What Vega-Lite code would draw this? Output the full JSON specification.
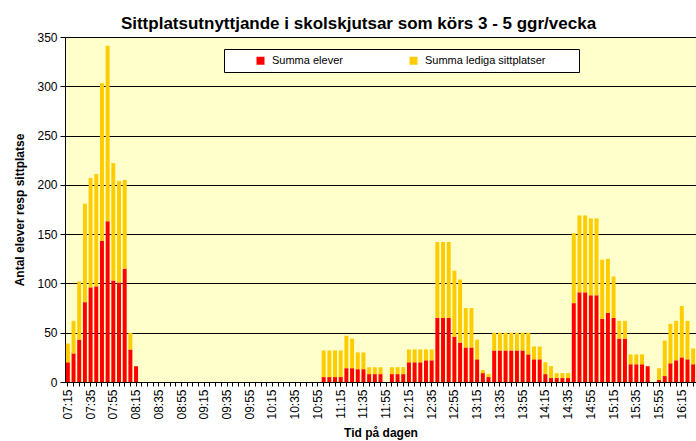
{
  "$schema": "https://vega.github.io/schema/vega-lite/v6.json",
  "width": 631,
  "height": 345,
  "autosize": {"type": "none"},
  "padding": {"left": 65, "top": 37, "right": 0, "bottom": 59},
  "background": "white",
  "title": {
    "text": "Sittplatsutnyttjande i skolskjutsar som körs 3 - 5 ggr/vecka",
    "font": "Liberation Sans",
    "fontSize": 17,
    "fontWeight": "bold",
    "color": "black",
    "anchor": "middle",
    "dx": -22,
    "offset": -2
  },
  "data": {
    "values": [
      {"tid": "07:15", "elever": 20, "lediga": 19},
      {"tid": "07:20", "elever": 29, "lediga": 33},
      {"tid": "07:25", "elever": 43, "lediga": 59},
      {"tid": "07:30", "elever": 81, "lediga": 100},
      {"tid": "07:35", "elever": 96, "lediga": 111},
      {"tid": "07:40", "elever": 97, "lediga": 114},
      {"tid": "07:45", "elever": 143, "lediga": 160},
      {"tid": "07:50", "elever": 163, "lediga": 178},
      {"tid": "07:55", "elever": 103, "lediga": 119},
      {"tid": "08:00", "elever": 101, "lediga": 103},
      {"tid": "08:05", "elever": 115, "lediga": 90},
      {"tid": "08:10", "elever": 33, "lediga": 17},
      {"tid": "08:15", "elever": 16, "lediga": 0},
      {"tid": "08:20", "elever": 0, "lediga": 0},
      {"tid": "08:25", "elever": 0, "lediga": 0},
      {"tid": "08:30", "elever": 0, "lediga": 0},
      {"tid": "08:35", "elever": 0, "lediga": 0},
      {"tid": "08:40", "elever": 0, "lediga": 0},
      {"tid": "08:45", "elever": 0, "lediga": 0},
      {"tid": "08:50", "elever": 0, "lediga": 0},
      {"tid": "08:55", "elever": 0, "lediga": 0},
      {"tid": "09:00", "elever": 0, "lediga": 0},
      {"tid": "09:05", "elever": 0, "lediga": 0},
      {"tid": "09:10", "elever": 0, "lediga": 0},
      {"tid": "09:15", "elever": 0, "lediga": 0},
      {"tid": "09:20", "elever": 0, "lediga": 0},
      {"tid": "09:25", "elever": 0, "lediga": 0},
      {"tid": "09:30", "elever": 0, "lediga": 0},
      {"tid": "09:35", "elever": 0, "lediga": 0},
      {"tid": "09:40", "elever": 0, "lediga": 0},
      {"tid": "09:45", "elever": 0, "lediga": 0},
      {"tid": "09:50", "elever": 0, "lediga": 0},
      {"tid": "09:55", "elever": 0, "lediga": 0},
      {"tid": "10:00", "elever": 0, "lediga": 0},
      {"tid": "10:05", "elever": 0, "lediga": 0},
      {"tid": "10:10", "elever": 0, "lediga": 0},
      {"tid": "10:15", "elever": 0, "lediga": 0},
      {"tid": "10:20", "elever": 0, "lediga": 0},
      {"tid": "10:25", "elever": 0, "lediga": 0},
      {"tid": "10:30", "elever": 0, "lediga": 0},
      {"tid": "10:35", "elever": 0, "lediga": 0},
      {"tid": "10:40", "elever": 0, "lediga": 0},
      {"tid": "10:45", "elever": 0, "lediga": 0},
      {"tid": "10:50", "elever": 0, "lediga": 0},
      {"tid": "10:55", "elever": 0, "lediga": 0},
      {"tid": "11:00", "elever": 5, "lediga": 27},
      {"tid": "11:05", "elever": 5, "lediga": 27},
      {"tid": "11:10", "elever": 5, "lediga": 27},
      {"tid": "11:15", "elever": 5, "lediga": 27},
      {"tid": "11:20", "elever": 14, "lediga": 33},
      {"tid": "11:25", "elever": 14, "lediga": 30},
      {"tid": "11:30", "elever": 13, "lediga": 17},
      {"tid": "11:35", "elever": 13, "lediga": 17},
      {"tid": "11:40", "elever": 8, "lediga": 7},
      {"tid": "11:45", "elever": 8, "lediga": 7},
      {"tid": "11:50", "elever": 8, "lediga": 7},
      {"tid": "11:55", "elever": 0, "lediga": 0},
      {"tid": "12:00", "elever": 8, "lediga": 7},
      {"tid": "12:05", "elever": 8, "lediga": 7},
      {"tid": "12:10", "elever": 8, "lediga": 7},
      {"tid": "12:15", "elever": 20, "lediga": 13},
      {"tid": "12:20", "elever": 20, "lediga": 13},
      {"tid": "12:25", "elever": 20, "lediga": 13},
      {"tid": "12:30", "elever": 22, "lediga": 11},
      {"tid": "12:35", "elever": 22, "lediga": 11},
      {"tid": "12:40", "elever": 65, "lediga": 77},
      {"tid": "12:45", "elever": 65, "lediga": 77},
      {"tid": "12:50", "elever": 65, "lediga": 77},
      {"tid": "12:55", "elever": 46, "lediga": 67},
      {"tid": "13:00", "elever": 40, "lediga": 64},
      {"tid": "13:05", "elever": 35, "lediga": 40},
      {"tid": "13:10", "elever": 35, "lediga": 40},
      {"tid": "13:15", "elever": 23, "lediga": 20},
      {"tid": "13:20", "elever": 9, "lediga": 3},
      {"tid": "13:25", "elever": 5, "lediga": 3},
      {"tid": "13:30", "elever": 32, "lediga": 18},
      {"tid": "13:35", "elever": 32, "lediga": 18},
      {"tid": "13:40", "elever": 32, "lediga": 18},
      {"tid": "13:45", "elever": 32, "lediga": 18},
      {"tid": "13:50", "elever": 32, "lediga": 18},
      {"tid": "13:55", "elever": 32, "lediga": 18},
      {"tid": "14:00", "elever": 28, "lediga": 22},
      {"tid": "14:05", "elever": 23, "lediga": 13},
      {"tid": "14:10", "elever": 23, "lediga": 13},
      {"tid": "14:15", "elever": 8, "lediga": 12},
      {"tid": "14:20", "elever": 4, "lediga": 12},
      {"tid": "14:25", "elever": 4, "lediga": 5},
      {"tid": "14:30", "elever": 4, "lediga": 5},
      {"tid": "14:35", "elever": 4, "lediga": 5},
      {"tid": "14:40", "elever": 80, "lediga": 71},
      {"tid": "14:45", "elever": 91, "lediga": 78},
      {"tid": "14:50", "elever": 91, "lediga": 78},
      {"tid": "14:55", "elever": 88, "lediga": 78},
      {"tid": "15:00", "elever": 88, "lediga": 78},
      {"tid": "15:05", "elever": 64, "lediga": 60},
      {"tid": "15:10", "elever": 70, "lediga": 55},
      {"tid": "15:15", "elever": 65, "lediga": 42},
      {"tid": "15:20", "elever": 44, "lediga": 18},
      {"tid": "15:25", "elever": 44, "lediga": 18},
      {"tid": "15:30", "elever": 18, "lediga": 10},
      {"tid": "15:35", "elever": 18, "lediga": 10},
      {"tid": "15:40", "elever": 18, "lediga": 10},
      {"tid": "15:45", "elever": 16, "lediga": 0},
      {"tid": "15:50", "elever": 0, "lediga": 0},
      {"tid": "15:55", "elever": 2, "lediga": 12},
      {"tid": "16:00", "elever": 6, "lediga": 36},
      {"tid": "16:05", "elever": 19, "lediga": 40},
      {"tid": "16:10", "elever": 22, "lediga": 40},
      {"tid": "16:15", "elever": 25, "lediga": 52},
      {"tid": "16:20", "elever": 23, "lediga": 39},
      {"tid": "16:25", "elever": 18, "lediga": 16}
    ]
  },
  "transform": [
    {"fold": ["elever", "lediga"], "as": ["serie", "antal"]}
  ],
  "mark": {"type": "bar", "stroke": null},
  "encoding": {
    "x": {
      "field": "tid",
      "type": "ordinal",
      "sort": null,
      "scale": {"paddingInner": 0.3, "paddingOuter": 0.15},
      "axis": {
        "title": "Tid på dagen",
        "titleFontSize": 12,
        "titleFontWeight": "bold",
        "titlePadding": 8,
        "labelAngle": 270,
        "labelAlign": "right",
        "labelBaseline": "middle",
        "labelFontSize": 12,
        "labelPadding": 3,
        "labelOverlap": false,
        "labelExpr": "indexof(['15','35','55'], slice(datum.label, 3)) >= 0 ? datum.label : ''",
        "tickSize": 4
      }
    },
    "y": {
      "field": "antal",
      "type": "quantitative",
      "stack": "zero",
      "scale": {"domain": [0, 350], "nice": false},
      "axis": {
        "title": "Antal elever resp sittplatse",
        "titleFontSize": 12,
        "titleFontWeight": "bold",
        "titlePadding": 10,
        "values": [0, 50, 100, 150, 200, 250, 300, 350],
        "labelFontSize": 12,
        "labelPadding": 3,
        "tickSize": 5,
        "grid": true,
        "gridColor": "black",
        "gridOpacity": 1,
        "gridWidth": 1
      }
    },
    "color": {
      "field": "serie",
      "type": "nominal",
      "scale": {"domain": ["elever", "lediga"], "range": ["#FF0000", "#FFCC00"]},
      "legend": {
        "orient": "none",
        "legendX": 159,
        "legendY": 12,
        "direction": "horizontal",
        "columns": 2,
        "title": null,
        "fillColor": "white",
        "strokeColor": "black",
        "padding": 6,
        "symbolType": "square",
        "symbolSize": 64,
        "symbolStrokeWidth": 0,
        "symbolOffset": 25,
        "labelOffset": 6,
        "labelFontSize": 11,
        "labelColor": "black",
        "labelLimit": 400,
        "columnPadding": 40,
        "labelExpr": "datum.label == 'elever' ? 'Summa elever' : 'Summa lediga sittplatser\u00a0\u00a0\u00a0\u00a0\u00a0\u00a0\u00a0\u00a0\u00a0\u200b'"
      }
    },
    "order": {"field": "serie", "sort": "ascending"}
  },
  "config": {
    "font": "Liberation Sans",
    "view": {"fill": "#FFFFCC", "stroke": "#808080", "strokeWidth": 1},
    "axis": {
      "domainColor": "black",
      "tickColor": "black",
      "labelColor": "black",
      "titleColor": "black",
      "labelFont": "Liberation Sans",
      "titleFont": "Liberation Sans"
    },
    "legend": {"labelFont": "Liberation Sans"}
  }
}
